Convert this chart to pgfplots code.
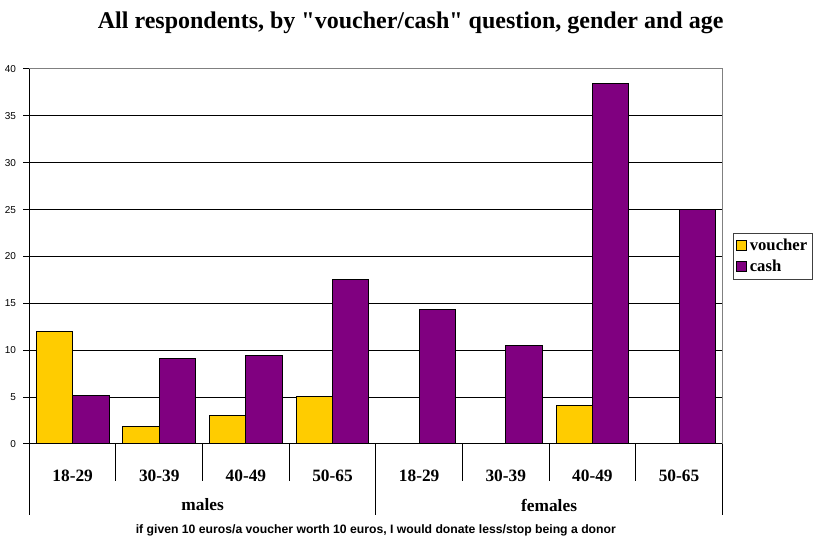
\documentclass[border=0pt]{standalone}
\usepackage{pgfplots}
\pgfplotsset{compat=1.18}
\usepackage{fontspec}
\setmainfont{Liberation Serif}
\setsansfont{Liberation Sans}
\newfontfamily\titlefont{Liberation Serif}[Ligatures=TeXOff]
\definecolor{voucher}{HTML}{FFCC00}
\definecolor{cash}{HTML}{800080}
\pgfplotsset{legsq/.style={legend image code/.code={\draw[##1, draw=black, line width=0.5pt] (0pt,-3.5pt) rectangle (7.5pt,4pt);}}}
\begin{document}
\begin{tikzpicture}
\path[use as bounding box] (0,0) rectangle (612.75pt,403.5pt);
\node[anchor=base, font=\titlefont\fontsize{18}{21}\selectfont\bfseries] at (308pt,381.75pt) {All respondents, by "voucher/cash" question, gender and age};
\begin{axis}[
 at={(22pt,70.5pt)}, anchor=south west,
 scale only axis, width=519.75pt, height=281.25pt,
 xmin=-0.5, xmax=7.5, ymin=0, ymax=40,
 ybar=0pt, bar width=0.42,
 xtick={0,...,7}, xticklabels={18-29,30-39,40-49,50-65,18-29,30-39,40-49,50-65},
 x tick label style={font=\fontsize{13}{15}\selectfont\bfseries, anchor=center, yshift=-19.5pt},
 major x tick style={draw=none},
 ytick={0,5,...,40},
 y tick label style={font=\sffamily\fontsize{7.5}{9}\selectfont, xshift=-2pt},
 /pgf/number format/assume math mode=true,
 ytick align=outside, major tick length=4.5pt,
 ytick style={black, line width=0.75pt},
 ymajorgrids, grid style={black, line width=0.75pt},
 axis x line*=bottom, axis y line*=left,
 axis line style={black, line width=0.75pt, -},
 every outer x axis line/.append style={-},
 every outer y axis line/.append style={-},
 clip=false,
 legend style={at={(1,0.5)}, anchor=west, xshift=8.25pt, draw=darkgray, line width=0.75pt, font=\fontsize{12.5}{14}\selectfont\bfseries, inner sep=2pt, row sep=1.5pt},
 legend cell align=left,
]
\addplot[fill=voucher, draw=black, line width=0.75pt, legsq] coordinates {(0,12.0) (1,1.9) (2,3.0) (3,5.05) (6,4.1)};
\addplot[fill=cash, draw=black, line width=0.75pt, legsq] coordinates {(0,5.2) (1,9.1) (2,9.4) (3,17.5) (4,14.3) (5,10.5) (6,38.4) (7,25.0)};
\legend{voucher,cash}
\draw[gray, line width=0.75pt] (rel axis cs:0,1) -- (rel axis cs:1,1) -- (rel axis cs:1,0);
\draw[black, line width=0.75pt] (axis cs:-0.5,0) -- ([yshift=-53.25pt]axis cs:-0.5,0);
\draw[black, line width=0.75pt] (axis cs:3.5,0) -- ([yshift=-53.25pt]axis cs:3.5,0);
\draw[black, line width=0.75pt] (axis cs:7.5,0) -- ([yshift=-53.25pt]axis cs:7.5,0);
\draw[black, line width=0.75pt] (axis cs:0.5,0) -- ([yshift=-27.75pt]axis cs:0.5,0);
\draw[black, line width=0.75pt] (axis cs:1.5,0) -- ([yshift=-27.75pt]axis cs:1.5,0);
\draw[black, line width=0.75pt] (axis cs:2.5,0) -- ([yshift=-27.75pt]axis cs:2.5,0);
\draw[black, line width=0.75pt] (axis cs:4.5,0) -- ([yshift=-27.75pt]axis cs:4.5,0);
\draw[black, line width=0.75pt] (axis cs:5.5,0) -- ([yshift=-27.75pt]axis cs:5.5,0);
\draw[black, line width=0.75pt] (axis cs:6.5,0) -- ([yshift=-27.75pt]axis cs:6.5,0);
\node[font=\fontsize{13}{15}\selectfont\bfseries] at (axis cs:1.5,0) [yshift=-45.75pt] {males};
\node[font=\fontsize{13}{15}\selectfont\bfseries] at (axis cs:5.5,0) [yshift=-45.75pt] {females};
\node[anchor=base, font=\sffamily\bfseries\fontsize{9.15}{10}\selectfont] at (axis cs:3.5,0) [yshift=-67.1pt] {if given 10 euros/a voucher worth 10 euros, I would donate less/stop being a donor};
\end{axis}
\end{tikzpicture}
\end{document}
